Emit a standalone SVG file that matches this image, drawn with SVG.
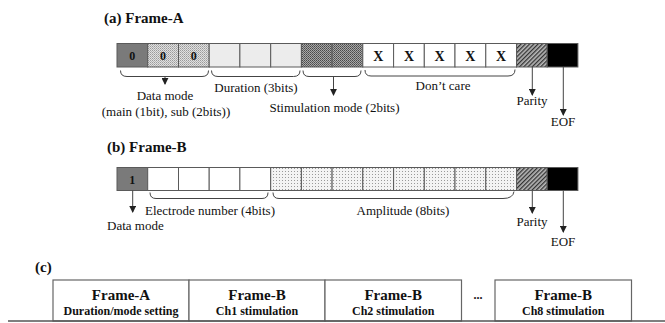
<svg xmlns="http://www.w3.org/2000/svg" width="665" height="323" viewBox="0 0 665 323">
<defs>
<pattern id="pSub" patternUnits="userSpaceOnUse" width="2" height="2">
<rect width="2" height="2" fill="#e0e0e0"/><rect width="1" height="1" fill="#9a9a9a"/><rect x="1" y="1" width="1" height="1" fill="#b4b4b4"/>
</pattern>
<pattern id="pStim" patternUnits="userSpaceOnUse" width="2" height="2">
<rect width="2" height="2" fill="#a8a8a8"/><rect width="1" height="1" fill="#4a4a4a"/><rect x="1" y="1" width="1" height="1" fill="#606060"/>
</pattern>
<pattern id="pAmp" patternUnits="userSpaceOnUse" width="3" height="3">
<rect width="3" height="3" fill="#f4f4f4"/><rect width="1" height="1" fill="#9a9a9a"/>
</pattern>
<pattern id="pHatch" patternUnits="userSpaceOnUse" width="3" height="3" patternTransform="rotate(45)">
<rect width="3" height="3" fill="#b8b8b8"/><rect width="1.3" height="3" fill="#333"/>
</pattern>
<marker id="ah" viewBox="0 0 8 8" refX="7" refY="4" markerWidth="7" markerHeight="7" markerUnits="userSpaceOnUse" orient="auto">
<path d="M0,0 L8,4 L0,8 Z" fill="#222"/>
</marker>
</defs>
<style>
.c{stroke:#5a5a5a;stroke-width:1}
.t{font-family:"Liberation Serif","Times New Roman",Times,serif;font-size:13px;fill:#111}
.ti{font-family:"Liberation Serif","Times New Roman",Times,serif;font-size:15px;font-weight:bold;fill:#111}
.b{font-family:"Liberation Serif","Times New Roman",Times,serif;font-weight:bold;fill:#111;text-anchor:middle}
.br{fill:none;stroke:#444;stroke-width:1}
.ar{fill:none;stroke:#444;stroke-width:1;marker-end:url(#ah)}
.box{fill:#fff;stroke:#666;stroke-width:1.2}
</style>

<text class="ti" x="104" y="23">(a) Frame-A</text>
<text class="ti" x="107" y="152">(b) Frame-B</text>
<text class="ti" x="35" y="272">(c)</text>

<g id="frameA">
<g id="a-datamode">
<rect class="c" x="117" y="43.5" width="30.7" height="23.5" fill="#7a7a7a"/>
<rect class="c" x="147.7" y="43.5" width="30.8" height="23.5" fill="url(#pSub)"/>
<rect class="c" x="178.5" y="43.5" width="30.7" height="23.5" fill="url(#pSub)"/>
<text class="b" font-size="12" x="132.3" y="59.5">0</text>
<text class="b" font-size="12" x="163.1" y="59.5">0</text>
<text class="b" font-size="12" x="193.8" y="59.5">0</text>
</g>
<g id="a-duration">
<rect class="c" x="209.2" y="43.5" width="30.7" height="23.5" fill="#ececec"/>
<rect class="c" x="239.9" y="43.5" width="30.8" height="23.5" fill="#ececec"/>
<rect class="c" x="270.7" y="43.5" width="30.7" height="23.5" fill="#ececec"/>
</g>
<g id="a-stim">
<rect class="c" x="301.4" y="43.5" width="30.7" height="23.5" fill="url(#pStim)"/>
<rect class="c" x="332.1" y="43.5" width="30.7" height="23.5" fill="url(#pStim)"/>
</g>
<g id="a-dontcare">
<rect class="c" x="362.8" y="43.5" width="30.8" height="23.5" fill="#fff"/>
<rect class="c" x="393.6" y="43.5" width="30.7" height="23.5" fill="#fff"/>
<rect class="c" x="424.3" y="43.5" width="30.7" height="23.5" fill="#fff"/>
<rect class="c" x="455" y="43.5" width="30.8" height="23.5" fill="#fff"/>
<rect class="c" x="485.8" y="43.5" width="30.7" height="23.5" fill="#fff"/>
<text class="b" font-size="14" x="378.2" y="60.5">X</text>
<text class="b" font-size="14" x="409" y="60.5">X</text>
<text class="b" font-size="14" x="439.6" y="60.5">X</text>
<text class="b" font-size="14" x="470.4" y="60.5">X</text>
<text class="b" font-size="14" x="501.1" y="60.5">X</text>
</g>
<g id="a-parity">
<rect class="c" x="516.5" y="43.5" width="30.7" height="23.5" fill="url(#pHatch)"/>
</g>
<g id="a-eof">
<rect class="c" x="547.2" y="43.5" width="30.7" height="23.5" fill="#000"/>
</g>
</g>

<g id="frameB">
<g id="b-datamode">
<rect class="c" x="117" y="167.5" width="30.7" height="23" fill="#7a7a7a"/>
<text class="b" font-size="12" x="132.3" y="183.5">1</text>
</g>
<g id="b-electrode">
<rect class="c" x="147.7" y="167.5" width="30.8" height="23" fill="#fff"/>
<rect class="c" x="178.5" y="167.5" width="30.7" height="23" fill="#fff"/>
<rect class="c" x="209.2" y="167.5" width="30.7" height="23" fill="#fff"/>
<rect class="c" x="239.9" y="167.5" width="30.8" height="23" fill="#fff"/>
</g>
<g id="b-amplitude">
<rect class="c" x="270.7" y="167.5" width="30.7" height="23" fill="url(#pAmp)"/>
<rect class="c" x="301.4" y="167.5" width="30.7" height="23" fill="url(#pAmp)"/>
<rect class="c" x="332.1" y="167.5" width="30.7" height="23" fill="url(#pAmp)"/>
<rect class="c" x="362.8" y="167.5" width="30.8" height="23" fill="url(#pAmp)"/>
<rect class="c" x="393.6" y="167.5" width="30.7" height="23" fill="url(#pAmp)"/>
<rect class="c" x="424.3" y="167.5" width="30.7" height="23" fill="url(#pAmp)"/>
<rect class="c" x="455" y="167.5" width="30.8" height="23" fill="url(#pAmp)"/>
<rect class="c" x="485.8" y="167.5" width="30.7" height="23" fill="url(#pAmp)"/>
</g>
<g id="b-parity">
<rect class="c" x="516.5" y="167.5" width="30.7" height="23" fill="url(#pHatch)"/>
</g>
<g id="b-eof">
<rect class="c" x="547.2" y="167.5" width="30.7" height="23" fill="#000"/>
</g>
</g>

<g id="connectors">
<path class="br" d="M120.5,70.5 Q120.5,76.5 127,76.5 L202,76.5 Q208.5,76.5 208.5,70.5"/>
<path class="br" d="M211.5,70.5 Q211.5,76.5 218,76.5 L293.5,76.5 Q300,76.5 300,70.5"/>
<path class="br" d="M303,70.5 Q303,76.5 309,76.5 L355,76.5 Q361,76.5 361,70.5"/>
<path class="br" d="M365,70 Q365,76 371,76 L508,76 Q515,76 515,69.5"/>
<path class="ar" d="M165,76.5 L165,84"/>
<path class="ar" d="M333.5,76.5 L333.5,95"/>
<path class="ar" d="M532.3,67 L532.3,95"/>
<path class="ar" d="M563.3,67 L563.3,115"/>

<path class="br" d="M150,192.5 Q150,198.5 156,198.5 L262,198.5 Q268,198.5 268,192.5"/>
<path class="br" d="M273,192.5 Q273,198.5 279,198.5 L503,198.5 Q513,198.5 514,191.5"/>
<path class="ar" d="M132.7,190.5 L132.7,212"/>
<path class="ar" d="M532.3,190.5 L532.3,213"/>
<path class="ar" d="M563.3,190.5 L563.3,232"/>
</g>

<g id="labels">
<text class="t" x="165" y="100" text-anchor="middle">Data mode</text>
<text class="t" x="166" y="116" text-anchor="middle">(main (1bit), sub (2bits))</text>
<text class="t" x="256" y="92" text-anchor="middle">Duration (3bits)</text>
<text class="t" x="334.5" y="112" text-anchor="middle">Stimulation mode (2bits)</text>
<text class="t" x="443" y="89.5" text-anchor="middle">Don’t care</text>
<text class="t" x="532" y="104.5" text-anchor="middle">Parity</text>
<text class="t" x="563" y="125.5" text-anchor="middle">EOF</text>
<text class="t" x="107" y="230">Data mode</text>
<text class="t" x="145" y="214.5">Electrode number (4bits)</text>
<text class="t" x="403" y="214.5" text-anchor="middle">Amplitude (8bits)</text>
<text class="t" x="532" y="226" text-anchor="middle">Parity</text>
<text class="t" x="563" y="246" text-anchor="middle">EOF</text>
</g>

<g id="sequence">
<g id="c-frameA">
<rect class="box" x="53" y="280" width="136" height="41"/>
<text class="b" font-size="15" x="121" y="299.5">Frame-A</text>
<text class="b" font-size="12" x="121" y="314.5">Duration/mode setting</text>
</g>
<g id="c-ch1">
<rect class="box" x="189" y="280" width="136" height="41"/>
<text class="b" font-size="15" x="257" y="299.5">Frame-B</text>
<text class="b" font-size="12" x="257" y="314.5">Ch1 stimulation</text>
</g>
<g id="c-ch2">
<rect class="box" x="325" y="280" width="136.5" height="41"/>
<text class="b" font-size="15" x="393.2" y="299.5">Frame-B</text>
<text class="b" font-size="12" x="393.2" y="314.5">Ch2 stimulation</text>
</g>
<text class="b" font-size="12" x="478" y="299">...</text>
<g id="c-ch8">
<rect class="box" x="495" y="280" width="136.5" height="41"/>
<text class="b" font-size="15" x="563.2" y="299.5">Frame-B</text>
<text class="b" font-size="12" x="563.2" y="314.5">Ch8 stimulation</text>
</g>
<line x1="8" y1="321" x2="665" y2="321" stroke="#555" stroke-width="1.6"/>
</g>
</svg>
